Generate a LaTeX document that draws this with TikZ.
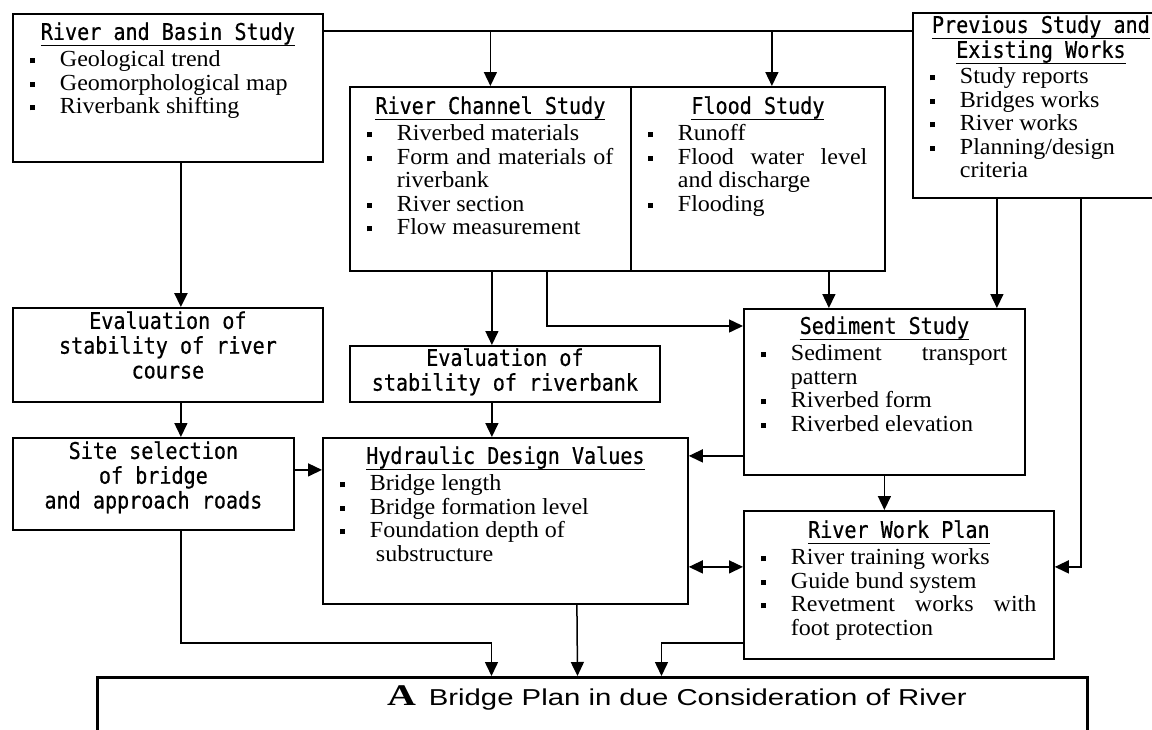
\documentclass[tikz,border=0pt]{standalone}
\usepackage{fontspec}
\usepackage{graphicx}
\setmainfont{Liberation Serif}[FakeStretch=1.045]
\newfontfamily\gothic{DejaVu Sans Mono}[FakeStretch=0.874, FakeBold=0.6]
\newfontfamily\plansans{Liberation Sans}
\usetikzlibrary{arrows.meta,positioning}
\hyphenpenalty=10000
\exhyphenpenalty=10000
\newlength{\headwd}
\newcommand{\uhead}[1]{{\gothic\settowidth{\headwd}{#1}%
  \makebox[0pt][l]{\rule[-6.5pt]{\headwd}{1.6pt}}#1}}
\newcommand{\headline}[1]{{\centering\uhead{#1}\par}}
\newcommand{\boxhead}[1]{\headline{#1}\vspace{3.5pt}}
\newcommand{\bitem}[1]{\par\noindent\hangindent=29.5pt\hangafter=1%
  \makebox[29.5pt][l]{\rule[3.5pt]{5pt}{5pt}}#1}
\tikzset{
  study/.style={
    draw,
    line width=1.8pt,
    anchor=north west,
    inner xsep=17.5pt,
    inner ysep=0pt,
    align=justify,
    font=\fontsize{23}{23.5}\selectfont
  },
  evalbox/.style={
    draw,
    line width=1.8pt,
    anchor=north west,
    inner xsep=5pt,
    inner ysep=0pt,
    align=flush center,
    font=\gothic\fontsize{23}{24.8}\selectfont
  },
  wire/.style={line width=1.5pt},
  link/.style={line width=1.5pt, -{Triangle[width=13pt,length=14pt]}},
  link2/.style={line width=1.5pt, {Triangle[width=13pt,length=14pt]}-{Triangle[width=13pt,length=14pt]}}
}

\begin{document}
\begin{tikzpicture}[x=1pt, y=-1pt]
  \useasboundingbox (0,0) rectangle (1152,729);
  \clip (0,0) rectangle (1152,729);
  \fill[white] (0,0) rectangle (1152,729);

  % study boxes
  \node[study, text width=275pt, text height=26pt, text depth=122pt] (basin) at (12,13) {%
    \boxhead{River and Basin Study}
    \bitem{Geological trend}
    \bitem{Geomorphological map}
    \bitem{Riverbank shifting}\par
  };
  \node[study, text width=246pt, text height=27pt, text depth=157pt] (channel) at (349,86) {%
    \boxhead{River Channel Study}
    \bitem{Riverbed materials}
    \bitem{Form and materials of riverbank}
    \bitem{River section}
    \bitem{Flow measurement}\par
  };
  \node[study, text width=219pt, text height=27pt, text depth=157pt] (flood) at (630,86) {%
    \boxhead{Flood Study}
    \bitem{Runoff}
    \bitem{Flood water level and discharge}
    \bitem{Flooding}\par
  };
  \node[study, text width=221pt, text height=20pt, text depth=165pt] (previous) at (912,12) {%
    \headline{Previous Study and}
    \headline{Existing Works}
    \vspace{2.5pt}
    \bitem{Study reports}
    \bitem{Bridges works}
    \bitem{River works}
    \bitem{Planning/design criteria}\par
  };
  \node[study, text width=246pt, text height=25pt, text depth=141pt] (sediment) at (743,308) {%
    \boxhead{Sediment Study}
    \bitem{Sediment transport pattern}
    \bitem{Riverbed form}
    \bitem{Riverbed elevation}\par
  };
  \node[study, align=flush left, text width=330pt, text height=26pt, text depth=140pt] (hydraulic) at (322,437) {%
    \boxhead{Hydraulic Design Values}
    \bitem{Bridge length}
    \bitem{Bridge formation level}
    \bitem{Foundation depth of\newline\hspace*{6pt}substructure}\par
  };
  \node[study, text width=275pt, text height=27pt, text depth=121pt] (workplan) at (743,510) {%
    \boxhead{River Work Plan}
    \bitem{River training works}
    \bitem{Guide bund system}
    \bitem{Revetment works with foot protection}\par
  };

  % evaluation boxes
  \node[evalbox, text width=300pt, text height=21pt, text depth=73pt] (course) at (12,307)
    {Evaluation of\\stability of river\\course};
  \node[evalbox, text width=300pt, text height=20pt, text depth=36pt] (bank) at (349,345)
    {Evaluation of\\stability of riverbank};
  \node[evalbox, text width=271pt, text height=21pt, text depth=71pt] (site) at (12,437)
    {Site selection\\of bridge\\and approach roads};

  % final plan
  \node[draw, line width=3pt, anchor=north west, minimum width=990pt, minimum height=90pt, inner sep=0pt] (plan) at (96,676) {};
  \node[anchor=base west, inner sep=0pt] (plantitle) at (387,705)
    {\scalebox{1.275}[1]{\fontsize{30}{30}\selectfont\textbf{A}\hspace{10pt}\plansans\fontsize{23}{23}\selectfont Bridge Plan in due Consideration of River}};

  % connectors
  \coordinate (bus) at ([yshift=-18pt]basin.north east);
  \coordinate (floodin) at ([xshift=14pt]flood.north);
  \draw[wire] (bus) -- (bus -| previous.west);
  \draw[link] (channel.north |- bus) -- (channel.north);
  \draw[link] (floodin |- bus) -- (floodin);
  \draw[link, line width=2.6pt] ([xshift=13pt]basin.south) -- ([xshift=13pt]course.north);
  \draw[link] ([xshift=13pt]course.south) -- ([xshift=27.5pt]site.north);
  \draw[link] ([xshift=1.5pt]channel.south) -- ([xshift=-13pt]bank.north);
  \draw[link] ([xshift=56.5pt]channel.south) |- ([yshift=-18pt]sediment.north west);
  \draw[link] ([xshift=71pt]flood.south) -- ([xshift=-55.5pt]sediment.north);
  \draw[link] ([xshift=-44pt]previous.south) -- ([xshift=112.5pt]sediment.north);
  \draw[link] ([xshift=40pt]previous.south) |- ([yshift=18pt]workplan.east);
  \draw[link] ([xshift=-13pt]bank.south) -- ([xshift=-13.5pt]hydraulic.north);
  \draw[link] ([yshift=14pt]site.east) -- ([yshift=51pt]hydraulic.west);
  \draw[link] ([yshift=-64pt]sediment.west) -- ([yshift=65pt]hydraulic.east);
  \draw[link] (sediment.south) -- ([xshift=-14.5pt]workplan.north);
  \draw[link2] ([yshift=-46pt]hydraulic.east) -- ([yshift=18pt]workplan.west);
  \draw[link] ([xshift=27.5pt]site.south) -- ++(0,112) -| ([xshift=-101pt]plan.north);
  \draw[link] ([xshift=71.5pt]hydraulic.south) -- ([xshift=-15pt]plan.north);
  \draw[link] ([yshift=17pt]workplan.south west) -| ([xshift=69pt]plan.north);
\end{tikzpicture}
\end{document}
